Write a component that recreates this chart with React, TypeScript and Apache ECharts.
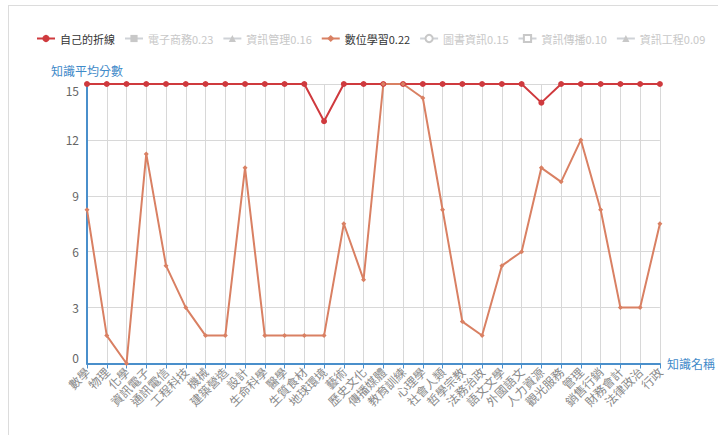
import React, { useEffect, useRef } from "react";
import * as echarts from "echarts";

const categories = [
  "數學", "物理", "化學", "資訊電子", "通訊電信", "工程科技", "機械", "建築營造", "設計", "生命科學",
  "醫學", "生質食材", "地球環境", "藝術", "歷史文化", "傳播媒體", "教育訓練", "心理學", "社會人類", "哲學宗教",
  "法務治政", "語文文學", "外國語文", "人力資源", "觀光服務", "管理", "銷售行銷", "財務會計", "法律政治", "行政",
];

const selfValues = [
  15, 15, 15, 15, 15, 15, 15, 15, 15, 15,
  15, 15, 13, 15, 15, 15, 15, 15, 15, 15,
  15, 15, 15, 14, 15, 15, 15, 15, 15, 15,
];

const digitalLearning = [
  8.25, 1.5, 0, 11.25, 5.25, 3, 1.5, 1.5, 10.5, 1.5,
  1.5, 1.5, 1.5, 7.5, 4.5, 15, 15, 14.25, 8.25, 2.25,
  1.5, 5.25, 6, 10.5, 9.75, 12, 8.25, 3, 3, 7.5,
];

const seriesNames = [
  "自己的折線", "電子商務0.23", "資訊管理0.16", "數位學習0.22", "圖書資訊0.15", "資訊傳播0.10", "資訊工程0.09",
];
const seriesSymbols = ["circle", "rect", "triangle", "diamond", "emptyCircle", "emptyRect", "triangle"];
const seriesColors = ["#cf3a3e", "#2f4554", "#61a0a8", "#d98063", "#91c7ae", "#749f83", "#ca8622"];
const shownSeries = ["自己的折線", "數位學習0.22"];

const yTicks = { min: 0, max: 15, interval: 3 };

export default function App() {
  const ref = useRef<HTMLDivElement>(null);
  useEffect(() => {
    if (!ref.current) return;
    const chart = echarts.init(ref.current, undefined, { renderer: "svg" });
    const dataFor = (name: string) =>
      name === "自己的折線" ? selfValues : name === "數位學習0.22" ? digitalLearning : [];
    const selected: Record<string, boolean> = {};
    seriesNames.forEach((n) => (selected[n] = shownSeries.includes(n)));
    chart.setOption({
      animation: false,
      color: seriesColors,
      textStyle: { fontFamily: "'Noto Sans CJK TC', 'Noto Sans', sans-serif" },
      legend: {
        left: 22,
        top: 22,
        width: 700,
        itemWidth: 18,
        itemHeight: 9,
        itemGap: 9,
        inactiveColor: "#c8c8c8",
        textStyle: { color: "#333", fontSize: 11 },
        selected,
        data: seriesNames,
      },
      grid: { left: 78, right: 57, top: 78, bottom: 71.5 },
      xAxis: {
        type: "category",
        data: categories,
        boundaryGap: false,
        name: "知識名稱",
        nameGap: 7,
        nameTextStyle: { color: "#3f8ac9", fontSize: 12 },
        axisLine: { lineStyle: { color: "#4a8fcb", width: 2 } },
        axisTick: { show: true, alignWithLabel: true, lineStyle: { color: "#4a8fcb" } },
        axisLabel: { rotate: 45, interval: 0, color: "#8a8a8a", fontSize: 12, margin: 6 },
        splitLine: { show: true, lineStyle: { color: "#d8d8d8" } },
      },
      yAxis: {
        type: "value",
        min: yTicks.min,
        max: yTicks.max,
        interval: yTicks.interval,
        name: "知識平均分數",
        nameGap: 8,
        nameTextStyle: { color: "#3f8ac9", fontSize: 12 },
        axisLine: { show: true, lineStyle: { color: "#4a8fcb", width: 2 } },
        axisTick: { show: false },
        axisLabel: {
          color: "#666",
          fontSize: 12,
          formatter: (v: number) =>
            v === yTicks.max ? `{top|${v}}` : v === yTicks.min ? `{bot|${v}}` : `${v}`,
          rich: {
            top: { color: "#666", fontSize: 12, padding: [12, 0, 0, 0] },
            bot: { color: "#666", fontSize: 12, padding: [0, 0, 12, 0] },
          },
        },
        splitLine: { show: true, lineStyle: { color: "#d8d8d8" } },
      },
      series: seriesNames.map((name, i) => ({
        name,
        type: "line",
        data: dataFor(name),
        symbol: seriesSymbols[i],
        symbolSize: name === "自己的折線" ? 6 : 5,
        lineStyle: { width: 2 },
        itemStyle: { color: seriesColors[i] },
      })),
    });
    return () => chart.dispose();
  }, []);
  return (
    <div
      style={{
        position: "absolute",
        left: 8,
        top: 5,
        width: 720,
        height: 440,
        borderLeft: "1px solid #dcdcdc",
        borderTop: "1px solid #dcdcdc",
        background: "#fff",
      }}
    >
      <div ref={ref} style={{ width: 709, height: 429 }} />
    </div>
  );
}
